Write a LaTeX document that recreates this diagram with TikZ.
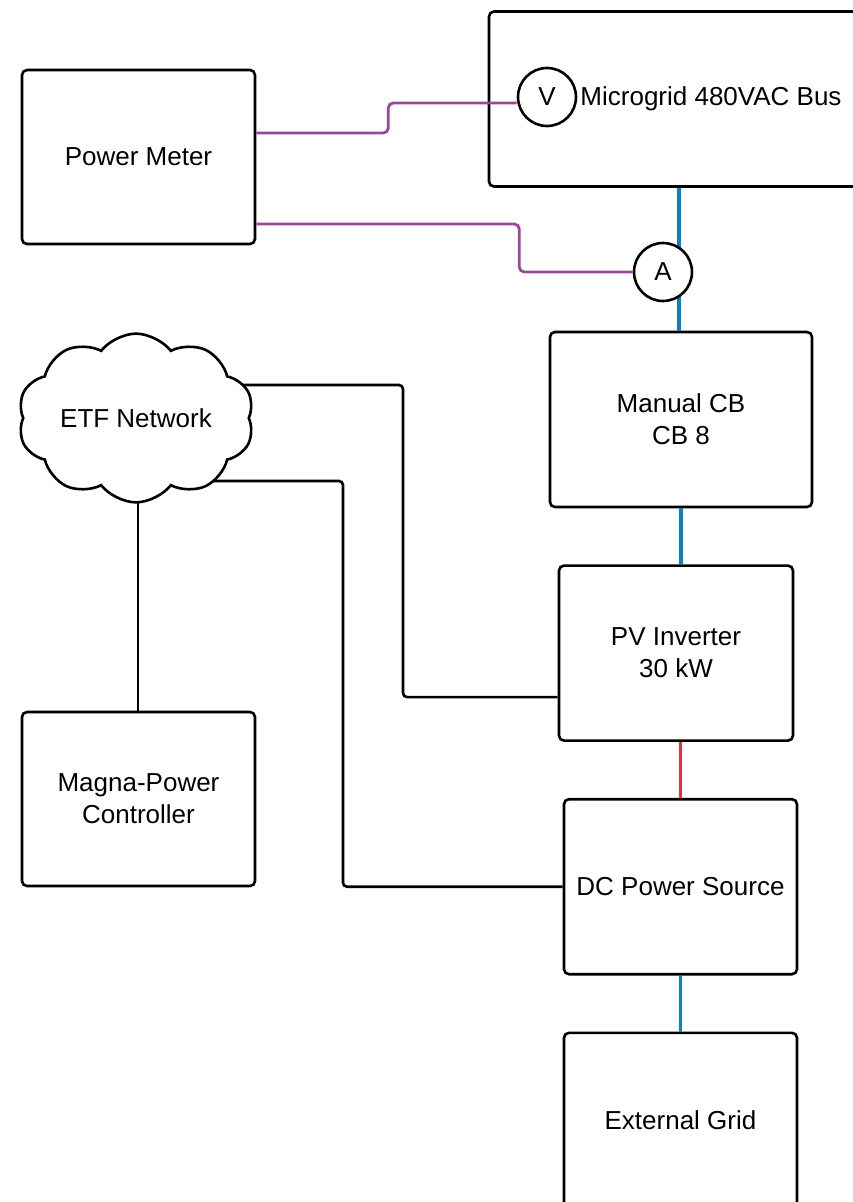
\documentclass[tikz,border=0pt]{standalone}
\usepackage{fontspec}
\setmainfont{Liberation Sans}
\usetikzlibrary{positioning,shapes.symbols,backgrounds}
\definecolor{tappurple}{RGB}{152,72,152}
\definecolor{acblue}{RGB}{10,130,198}
\definecolor{dcred}{RGB}{228,50,60}

\begin{document}
\begin{tikzpicture}[x=1pt,y=-1pt,node distance=56pt,
  box/.style={draw,line width=2.6pt,rounded corners=5pt,minimum width=233pt,
    minimum height=175pt,align=center,inner sep=0pt,font=\fontsize{26}{32}\selectfont},
  meter/.style={draw,circle,line width=2.6pt,fill=white,minimum size=58pt,
    inner sep=0pt,font=\fontsize{26}{32}\selectfont},
  link/.style={line width=2.6pt,rounded corners=4pt},
  tap/.style={tappurple,line width=2.8pt,rounded corners=5pt},
  ac/.style={acblue,line width=3.2pt},
  dc/.style={dcred,line width=3.2pt}]
  \useasboundingbox (0,0) rectangle (853,1202);

  % power chain
  \node[box,minimum width=444pt] (mg) at (711,99) {Microgrid 480VAC Bus};
  \node[box,minimum width=262pt] (cb) at (681,419.5) {Manual CB\\CB 8};
  \node[box,below=of cb,xshift=-5pt,minimum width=234pt] (pv) {PV Inverter\\30 kW};
  \node[box,below=of pv,xshift=4.5pt] (dcs) {DC Power Source};
  \node[box,below=of dcs] (ext) {External Grid};

  % control side
  \node[box,minimum height=174pt] (pm) at (138.5,157) {Power Meter};
  \node[box,minimum height=174pt] (mpc) at (138.5,799) {Magna-Power\\Controller};
  \node[cloud,draw,fill=white,line width=2.6pt,cloud puffs=10,cloud puff arc=105,
    shape border rotate=14,aspect=1.5,minimum width=236pt,minimum height=158pt,
    inner sep=0pt,font=\fontsize{26}{32}\selectfont] (net) at (136,418) {ETF Network};

  \draw[ac] ([xshift=-2pt]cb.north) -- ([xshift=-2pt]cb.north |- mg.south);
  \draw[ac] (cb.south) -- (cb.south |- pv.north);
  \draw[dc] (dcs.north) -- (dcs.north |- pv.south);
  \draw[ac] (dcs.south) -- (ext.north);

  \node[meter] (am) at (663,272) {A};
  \node[meter] (vm) at (547,97) {V};
  \draw[tap] ([yshift=24pt]pm.east) -- ++(132,0) |- ([yshift=-6pt]vm.west);
  \draw[tap] ([yshift=-67pt]pm.east) -- ++(263,0) |- (am.west);

  \begin{scope}[on background layer]
    \draw[link] ([yshift=33pt]net.center) -- ++(267,0) |- ([yshift=-44pt]pv.west);
    \draw[link] ([yshift=-63pt]net.center) -- ++(207,0) |- (dcs.west);
    \draw[link] ([xshift=2pt]net.center) -- ([xshift=2pt]net.center |- mpc.north);
  \end{scope}
\end{tikzpicture}
\end{document}
